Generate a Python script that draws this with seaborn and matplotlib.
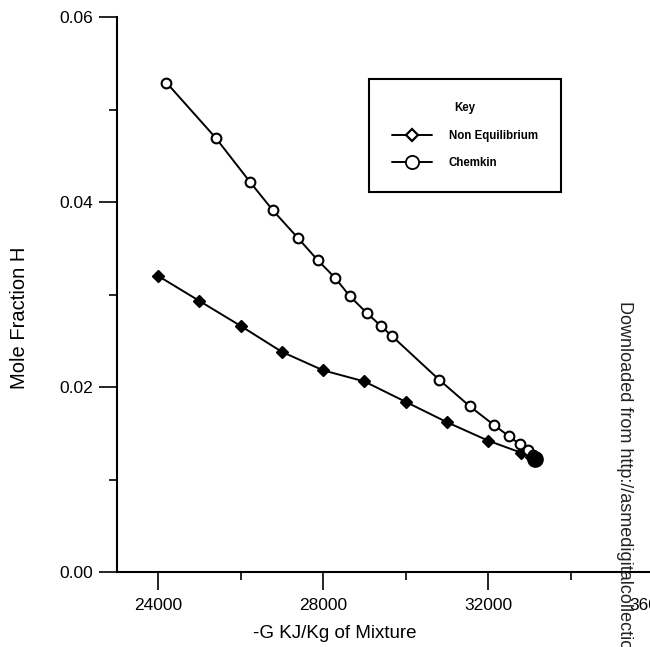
import matplotlib
matplotlib.use("Agg")
import matplotlib.pyplot as plt
from matplotlib.ticker import FixedLocator, FormatStrFormatter
from matplotlib.lines import Line2D
import seaborn as sns
import pandas as pd

# Chemkin equilibrium calculation (open circles)
energy_chemkin = [24200, 25400, 26220, 26780, 27390, 27870, 28290, 28650, 29060,
                  29400, 29670, 30810, 31560, 32140, 32500, 32770, 32960, 33090, 33150]
h_chemkin = [0.0529, 0.0469, 0.0422, 0.0391, 0.0361, 0.0337, 0.0318, 0.0298, 0.0280,
             0.0266, 0.0255, 0.0208, 0.0179, 0.0159, 0.0147, 0.0138, 0.0132, 0.0126, 0.0122]

# Non-equilibrium model (filled diamonds)
energy_noneq = [24000, 25000, 26000, 27000, 28000, 29000, 30000, 31000, 32000,
                32800, 33050, 33150]
h_noneq = [0.0320, 0.0293, 0.0266, 0.0238, 0.0218, 0.0206, 0.0184, 0.0162, 0.0142,
           0.0129, 0.0124, 0.0122]

x_major = [24000, 28000, 32000, 36000]
x_minor = [26000, 30000, 34000]
y_major = [0.00, 0.02, 0.04, 0.06]
y_minor = [0.01, 0.03, 0.05]

sns.set_style("ticks")
plt.rcParams["font.family"] = ["Liberation Sans", "DejaVu Sans"]
plt.rcParams["text.color"] = "black"
plt.rcParams["axes.labelcolor"] = "black"

df_c = pd.DataFrame({"G": energy_chemkin, "H": h_chemkin})
df_n = pd.DataFrame({"G": energy_noneq, "H": h_noneq})

fig = plt.figure(figsize=(6.5, 6.47), dpi=100)
W, H = 650, 647
left, right, top, bottom = 117, 653, 17, 572
ax = fig.add_axes([left / W, 1 - bottom / H, (right - left) / W, (bottom - top) / H])

sns.lineplot(data=df_n, x="G", y="H", sort=False, ax=ax, color="black", lw=1.4,
             marker="D", markersize=6, markerfacecolor="black",
             markeredgecolor="black", markeredgewidth=1.0)
sns.lineplot(data=df_c, x="G", y="H", sort=False, ax=ax, color="black", lw=1.4,
             marker="o", markersize=7, markerfacecolor="white",
             markeredgecolor="black", markeredgewidth=1.5)
# converged end point of both curves
ax.plot(energy_noneq[-1], h_noneq[-1], "o", color="black", markersize=11, zorder=5)

ax.set_xlim(23000, 36000)
ax.set_ylim(0, 0.06)
ax.xaxis.set_major_locator(FixedLocator(x_major))
ax.xaxis.set_minor_locator(FixedLocator(x_minor))
ax.yaxis.set_major_locator(FixedLocator(y_major))
ax.yaxis.set_minor_locator(FixedLocator(y_minor))
ax.yaxis.set_major_formatter(FormatStrFormatter("%.2f"))
ax.xaxis.set_major_formatter(FormatStrFormatter("%d"))

sns.despine(ax=ax)
for s in ("left", "bottom"):
    ax.spines[s].set_linewidth(1.5)
    ax.spines[s].set_color("black")
ax.tick_params(which="major", length=13, width=1.2, color="black",
               labelsize=12.5, labelcolor="black")
ax.tick_params(axis="y", which="major", pad=4)
ax.tick_params(axis="x", which="major", pad=6)
ax.tick_params(which="minor", length=6, width=1.2, color="black")

ax.set_xlabel("-G KJ/Kg of Mixture", fontsize=13.5)
ax.set_ylabel("Mole Fraction H", fontsize=14.5)
ax.xaxis.set_label_coords((335 - left) / (right - left), -(634 - bottom) / (bottom - top),
                          transform=ax.transAxes)
ax.yaxis.set_label_coords(-(left - 20) / (right - left), (bottom - 318) / (bottom - top),
                          transform=ax.transAxes)
ax.xaxis.label.set_va("center")
ax.yaxis.label.set_va("center")

handles = [
    Line2D([], [], color="black", lw=1.4, marker="D", markersize=6.5,
           markerfacecolor="white", markeredgecolor="black", markeredgewidth=1.6),
    Line2D([], [], color="black", lw=1.4, marker="o", markersize=9.5,
           markerfacecolor="white", markeredgecolor="black", markeredgewidth=1.3),
]
leg = ax.legend(handles, ["Non Equilibrium", "Chemkin"], title="Key",
                loc="upper left",
                bbox_to_anchor=((369 - left) / (right - left), (bottom - 79) / (bottom - top)),
                frameon=True, fancybox=False, framealpha=1, edgecolor="black",
                prop={"size": 8.3, "weight": "bold"},
                title_fontproperties={"size": 8.3, "weight": "bold"},
                borderpad=2.0, labelspacing=1.35, handlelength=3.5,
                handletextpad=1.4, borderaxespad=0)
leg.get_frame().set_linewidth(1.5)

fig.text(624 / W, 1 - 301 / H, "Downloaded from http://asmedigitalcollection.asme.org",
         rotation=-90, ha="center", va="top", fontsize=13, color="#222222")

fig.savefig("out.png", dpi=100)
